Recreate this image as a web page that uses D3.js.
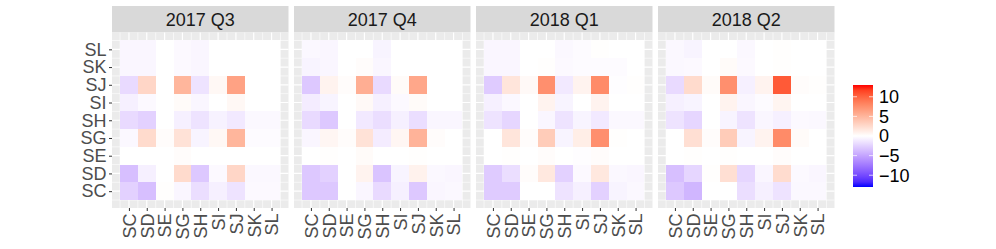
<!DOCTYPE html>
<html>
<head>
<meta charset="utf-8">
<script src="https://cdn.jsdelivr.net/npm/d3@7"></script>
<style>
  body { margin: 0; background: #fff; }
  svg text { font-family: "Liberation Sans", Arial, sans-serif; }
</style>
</head>
<body>
<div id="chart"></div>
<script>
// stations, used on both axes (y goes bottom -> top)
const stations = ["SC", "SD", "SE", "SG", "SH", "SI", "SJ", "SK", "SL"]
const quarters = ["2017 Q3", "2017 Q4", "2018 Q1", "2018 Q2"]

// one row per y station (SC .. SL), columns = x station (SC .. SL)
const q2017Q3 = [
  [-2.5, -3.5, 0.1, -0.5, -1.8, -0.8, -1.5, -0.3, -0.3],
  [-3.5, -0.8, 0, 2.5, -3, -0.3, 2.8, -0.4, -0.4],
  [0, 0, 0, 0.2, 0, 0, 0, 0, 0],
  [-0.4, 2.5, 0.2, 2, -0.6, 0.5, 5, -0.2, -0.2],
  [-2, -2.5, 0, -0.8, -1.5, -0.7, -1.2, -0.4, -0.4],
  [-0.8, -0.3, 0, 0.3, -0.5, 0, 0.5, 0, 0],
  [-2, 2.8, 0, 5, -1.5, 0.5, 6.3, 0, 0],
  [-0.5, -0.5, 0, -0.3, -0.5, 0, 0, 0, 0],
  [-0.5, -0.5, 0, -0.3, -0.5, 0, 0, 0, 0]
]
const q2017Q4 = [
  [-3, -3, 0, -0.5, -2, -0.8, -3, -0.5, -0.4],
  [-3, -2.5, 0, 0.8, -3.2, -0.6, 0.9, -0.4, -0.5],
  [0, 0.1, 0, 0.3, 0, 0, 0.1, 0, 0],
  [-0.5, 0.6, 0.2, 2, -1, 0.6, 5.2, 0.2, 0],
  [-2, -3, 0, -1.2, -1.8, -0.8, -1.8, -0.5, -0.5],
  [-1, -0.6, 0, 0.4, -0.8, -0.3, 0.3, 0, 0],
  [-3, 0.8, 0.2, 5.5, -2, 0.3, 6, 0, 0],
  [-0.6, -0.5, 0, 0.2, -0.5, 0, 0, 0, 0],
  [-0.4, -0.5, 0, 0, -0.6, 0, 0, 0, 0]
]
const q2018Q1 = [
  [-2.8, -2.8, 0, 0, -1.5, -0.8, -2.5, -0.6, -0.4],
  [-2.8, -1.8, 0.2, 1.6, -2.5, -0.3, 1.6, -0.4, -0.5],
  [0, 0.1, 0, 0.2, 0, -0.1, 0.2, 0, 0],
  [0, 1.8, 0.2, 3.5, -0.6, 1.2, 7.5, 0.1, 0],
  [-1.5, -2.2, 0, -0.5, -1.5, -0.6, -1.2, -0.4, -0.4],
  [-0.8, -0.4, 0, 0.8, -0.6, 0, 0.8, 0, 0],
  [-2.8, 1.8, 0.4, 7.5, -1.2, 0.8, 7.8, -0.1, 0.1],
  [-0.5, -0.5, 0, 0.1, -0.3, -0.2, -0.2, -0.2, 0],
  [-0.5, -0.5, 0, 0, -0.4, -0.2, 0.1, 0, 0]
]
const q2018Q2 = [
  [-3, -4, 0, 0, -1.8, -0.8, -1.5, -0.4, -0.4],
  [-3.5, -2.2, 0.1, 2.2, -2.2, -0.5, 2.4, -0.3, -0.5],
  [0, 0.1, 0, 0.1, 0, 0, 0.2, 0, 0],
  [0, 2.2, 0.2, 3.5, -0.6, 0.8, 7.8, 0.3, 0],
  [-1.5, -2.2, 0, -0.6, -1.5, -0.5, -0.8, -0.3, -0.4],
  [-0.8, -0.6, 0, 0.8, -0.5, -0.2, 0.7, 0, 0],
  [-2, 2.5, 0.3, 7.5, -0.8, 0.8, 10.5, 0.2, 0.1],
  [-0.4, -0.3, 0, 0.3, -0.3, 0, 0.1, 0, 0],
  [-0.4, -0.6, 0, 0, -0.4, 0, 0.1, 0, 0]
]
const panelValues = [q2017Q3, q2017Q4, q2018Q1, q2018Q2]

const legendBreaks = [-10, -5, 0, 5, 10]
const fillLimits = [-13, 13]

const width = 996
const height = 249
const panelLeft = 112
const panelTop = 32.5
const panelW = 176.5
const panelH = 175.5
const panelGap = 5.5
const stripH = 26.5
const fontSize = '18px'

const svg = d3.select('#chart').append('svg')
  .attr('width', width)
  .attr('height', height)

const x = d3.scaleLinear()
  .domain([0.05, 9.95])
  .range([0, panelW])

const y = d3.scaleLinear()
  .domain([0.05, 9.95])
  .range([panelH, 0])

const fill = d3.scaleLinear()
  .domain([fillLimits[0], 0, fillLimits[1]])
  .range(["#0000FF", "#FFFFFF", "#FF0000"])
  .interpolate(d3.interpolateLab)
  .clamp(true)

const majors = d3.range(1, 10)
const minors = d3.range(0.5, 10, 1)

quarters.forEach((q, p) => {
  const g = svg.append('g')
    .attr('transform', `translate(${panelLeft + p * (panelW + panelGap)}, ${panelTop})`)

  // strip
  g.append('rect')
    .attr('y', -stripH)
    .attr('width', panelW)
    .attr('height', stripH)
    .attr('fill', '#D9D9D9')
  g.append('text')
    .attr('x', panelW / 2)
    .attr('y', -stripH / 2)
    .attr('dy', '0.36em')
    .attr('text-anchor', 'middle')
    .attr('fill', '#1A1A1A')
    .style('font-size', fontSize)
    .text(q)

  // panel bg + grid
  g.append('rect')
    .attr('width', panelW)
    .attr('height', panelH)
    .attr('fill', '#EBEBEB')

  g.selectAll('.vminor').data(minors).enter().append('line')
    .attr('x1', d => x(d)).attr('x2', d => x(d))
    .attr('y1', 0).attr('y2', panelH)
    .attr('stroke', '#fff').attr('stroke-width', 0.6)
  g.selectAll('.hminor').data(minors).enter().append('line')
    .attr('y1', d => y(d)).attr('y2', d => y(d))
    .attr('x1', 0).attr('x2', panelW)
    .attr('stroke', '#fff').attr('stroke-width', 0.6)
  g.selectAll('.vmajor').data(majors).enter().append('line')
    .attr('x1', d => x(d)).attr('x2', d => x(d))
    .attr('y1', 0).attr('y2', panelH)
    .attr('stroke', '#fff').attr('stroke-width', 1.2)
  g.selectAll('.hmajor').data(majors).enter().append('line')
    .attr('y1', d => y(d)).attr('y2', d => y(d))
    .attr('x1', 0).attr('x2', panelW)
    .attr('stroke', '#fff').attr('stroke-width', 1.2)

  // tiles
  const cells = []
  panelValues[p].forEach((row, r) => {
    row.forEach((v, c) => cells.push({ xi: c + 1, yi: r + 1, v: v }))
  })
  g.selectAll('.tile').data(cells).enter().append('rect')
    .attr('class', 'tile')
    .attr('x', d => x(d.xi - 0.5))
    .attr('y', d => y(d.yi + 0.5))
    .attr('width', d => x(d.xi + 0.5) - x(d.xi - 0.5))
    .attr('height', d => y(d.yi - 0.5) - y(d.yi + 0.5))
    .attr('fill', d => fill(d.v))
    .attr('shape-rendering', 'crispEdges')

  // x axis
  const xAxis = g.append('g')
    .attr('transform', `translate(0, ${panelH})`)
    .call(d3.axisBottom(x).tickValues(majors).tickFormat(d => stations[d - 1]).tickSize(3).tickPadding(2))
  xAxis.select('.domain').remove()
  xAxis.selectAll('.tick line').attr('stroke', '#333333').attr('stroke-width', 1)
  xAxis.selectAll('.tick text')
    .attr('fill', '#4D4D4D')
    .style('font-size', fontSize)
    .attr('transform', 'rotate(-90)')
    .attr('text-anchor', 'end')
    .attr('x', -5.5)
    .attr('y', 0)
    .attr('dy', '0.35em')

  // y axis only on the first panel
  if (p === 0) {
    const yAxis = g.append('g')
      .call(d3.axisLeft(y).tickValues(majors).tickFormat(d => stations[d - 1]).tickSize(3).tickPadding(2.5))
    yAxis.select('.domain').remove()
    yAxis.selectAll('.tick line').attr('stroke', '#333333').attr('stroke-width', 1)
    yAxis.selectAll('.tick text')
      .attr('fill', '#4D4D4D')
      .style('font-size', fontSize)
  }
})

// legend colourbar
const barX = 853
const barY = 85
const barW = 20
const barH = 102

const defs = svg.append('defs')
const grad = defs.append('linearGradient')
  .attr('id', 'fillgrad')
  .attr('x1', 0).attr('y1', 1).attr('x2', 0).attr('y2', 0)
d3.range(0, 1.0001, 0.05).forEach(t => {
  grad.append('stop')
    .attr('offset', t)
    .attr('stop-color', fill(fillLimits[0] + t * (fillLimits[1] - fillLimits[0])))
})

const ly = d3.scaleLinear()
  .domain(fillLimits)
  .range([barY + barH, barY])

svg.append('rect')
  .attr('x', barX).attr('y', barY)
  .attr('width', barW).attr('height', barH)
  .attr('fill', 'url(#fillgrad)')

const lticks = svg.append('g')
lticks.selectAll('.tl').data(legendBreaks).enter().append('line')
  .attr('x1', barX).attr('x2', barX + barW / 5)
  .attr('y1', d => ly(d)).attr('y2', d => ly(d))
  .attr('stroke', '#fff').attr('stroke-opacity', 0.7)
lticks.selectAll('.tr').data(legendBreaks).enter().append('line')
  .attr('x1', barX + barW * 4 / 5).attr('x2', barX + barW)
  .attr('y1', d => ly(d)).attr('y2', d => ly(d))
  .attr('stroke', '#fff').attr('stroke-opacity', 0.7)
lticks.selectAll('text').data(legendBreaks).enter().append('text')
  .attr('x', barX + barW + 6)
  .attr('y', d => ly(d))
  .attr('dy', '0.36em')
  .attr('fill', '#000')
  .style('font-size', fontSize)
  .text(d => d < 0 ? '\u2212' + Math.abs(d) : d)
</script>
</body>
</html>
